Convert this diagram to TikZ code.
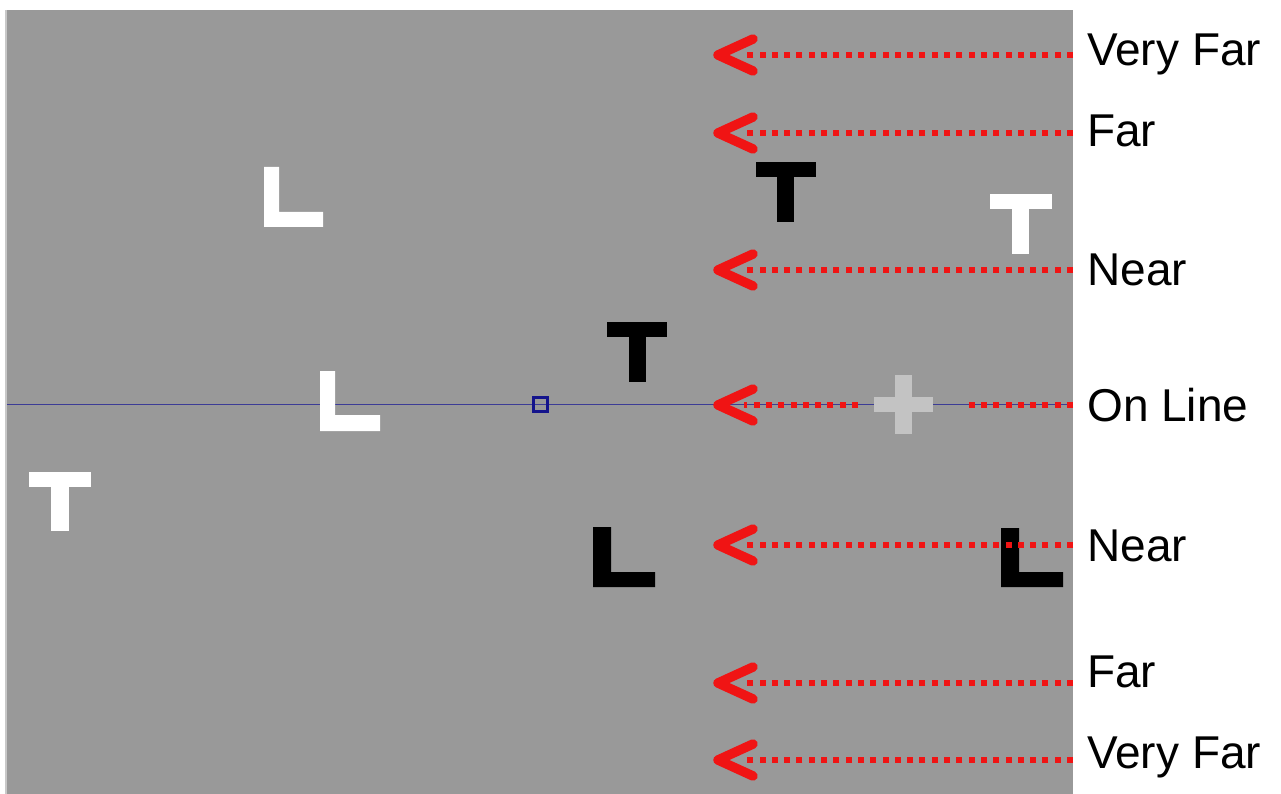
\documentclass[tikz,border=0pt]{standalone}
\usepackage{fontspec}
\setmainfont{Liberation Sans}
\definecolor{bg}{RGB}{153,153,153}
\definecolor{edge}{RGB}{200,200,200}
\definecolor{navy}{RGB}{60,60,150}
\definecolor{sqblue}{RGB}{20,20,140}
\definecolor{crossgray}{RGB}{195,195,195}
\definecolor{arrred}{RGB}{240,20,20}
\begin{document}
\begin{tikzpicture}[x=1pt,y=-1pt,
  lab/.style={anchor=base west,inner sep=0pt,font=\fontsize{46}{52}\selectfont,text=black},
  dotline/.style={draw=arrred,line width=6pt,dash pattern=on 6pt off 6.3pt},
  chev/.style={draw=arrred,line width=9.5pt,line cap=round,line join=round},
  whiteshape/.style={fill=white},
  blackshape/.style={fill=black}]
\useasboundingbox (0,0) rectangle (1281,794);
% background
\fill[bg] (7,10) rectangle (1073,794);
\fill[edge] (5,10) rectangle (7,794);
% horizontal blue line
\coordinate (bl) at (7,404.5);
\coordinate (br) at (1073,404.5);
\draw[navy,line width=1.8pt] (bl) -- (br);
% fixation square
\draw[sqblue,line width=2.4pt] (533.5,397.5) rectangle (547.5,411.5);
% white L top
\fill[whiteshape] (264,167) -- (279,167) -- (279,212) -- (323,212) -- (323,227) -- (264,227) -- cycle;
% white L on line
\fill[whiteshape] (320,371) -- (335,371) -- (335,415) -- (380,415) -- (380,431) -- (320,431) -- cycle;
% white T left
\fill[whiteshape] (29,472) rectangle (91,487);
\fill[whiteshape] (51,487) rectangle (69,531);
% black T centre
\fill[blackshape] (607,322) rectangle (667,337);
\fill[blackshape] (629,337) rectangle (646,382);
% black T upper right
\fill[blackshape] (756,162) rectangle (816,177);
\fill[blackshape] (777,177) rectangle (794,222);
% white T right
\fill[whiteshape] (990,194) rectangle (1052,209);
\fill[whiteshape] (1012,209) rectangle (1029,254);
% black L centre bottom
\fill[blackshape] (593,527) -- (611,527) -- (611,572) -- (655,572) -- (655,587) -- (593,587) -- cycle;
% black L right
\fill[blackshape] (1001,528) -- (1019,528) -- (1019,572) -- (1063,572) -- (1063,587) -- (1001,587) -- cycle;
% grey cross
\fill[crossgray] (874,397) rectangle (933,412);
\fill[crossgray] (895,375) rectangle (912,434);
% labels
\node[lab] (l1) at (1087,66) {Very Far};
\node[lab] (l2) at (1087,147) {Far};
\node[lab] (l3) at (1087,285) {Near};
\node[lab] (l4) at (1087,421) {On Line};
\node[lab] (l5) at (1087,561) {Near};
\node[lab] (l6) at (1087,687) {Far};
\node[lab] (l7) at (1087,768) {Very Far};
% arrows
\foreach \i/\y in {1/55,2/133,3/270,5/545,6/683,7/760}{
  \coordinate (e\i) at (1073,\y);
  \coordinate (s\i) at (744,\y);
  \coordinate (t\i) at (718,\y);
  \draw[dotline] (e\i) -- (s\i);
  \draw[chev] ([shift={(35,-16)}]t\i) -- (t\i) -- ([shift={(35,16)}]t\i);
}
% on line arrow, broken by the cross
\coordinate (e4) at (1073,405);
\coordinate (g4a) at (963,405);
\coordinate (g4b) at (858,405);
\coordinate (s4) at (744,405);
\coordinate (t4) at (718,405);
\draw[dotline] (e4) -- (g4a);
\draw[dotline] (g4b) -- (s4);
\draw[chev] ([shift={(35,-16)}]t4) -- (t4) -- ([shift={(35,16)}]t4);
\end{tikzpicture}
\end{document}
